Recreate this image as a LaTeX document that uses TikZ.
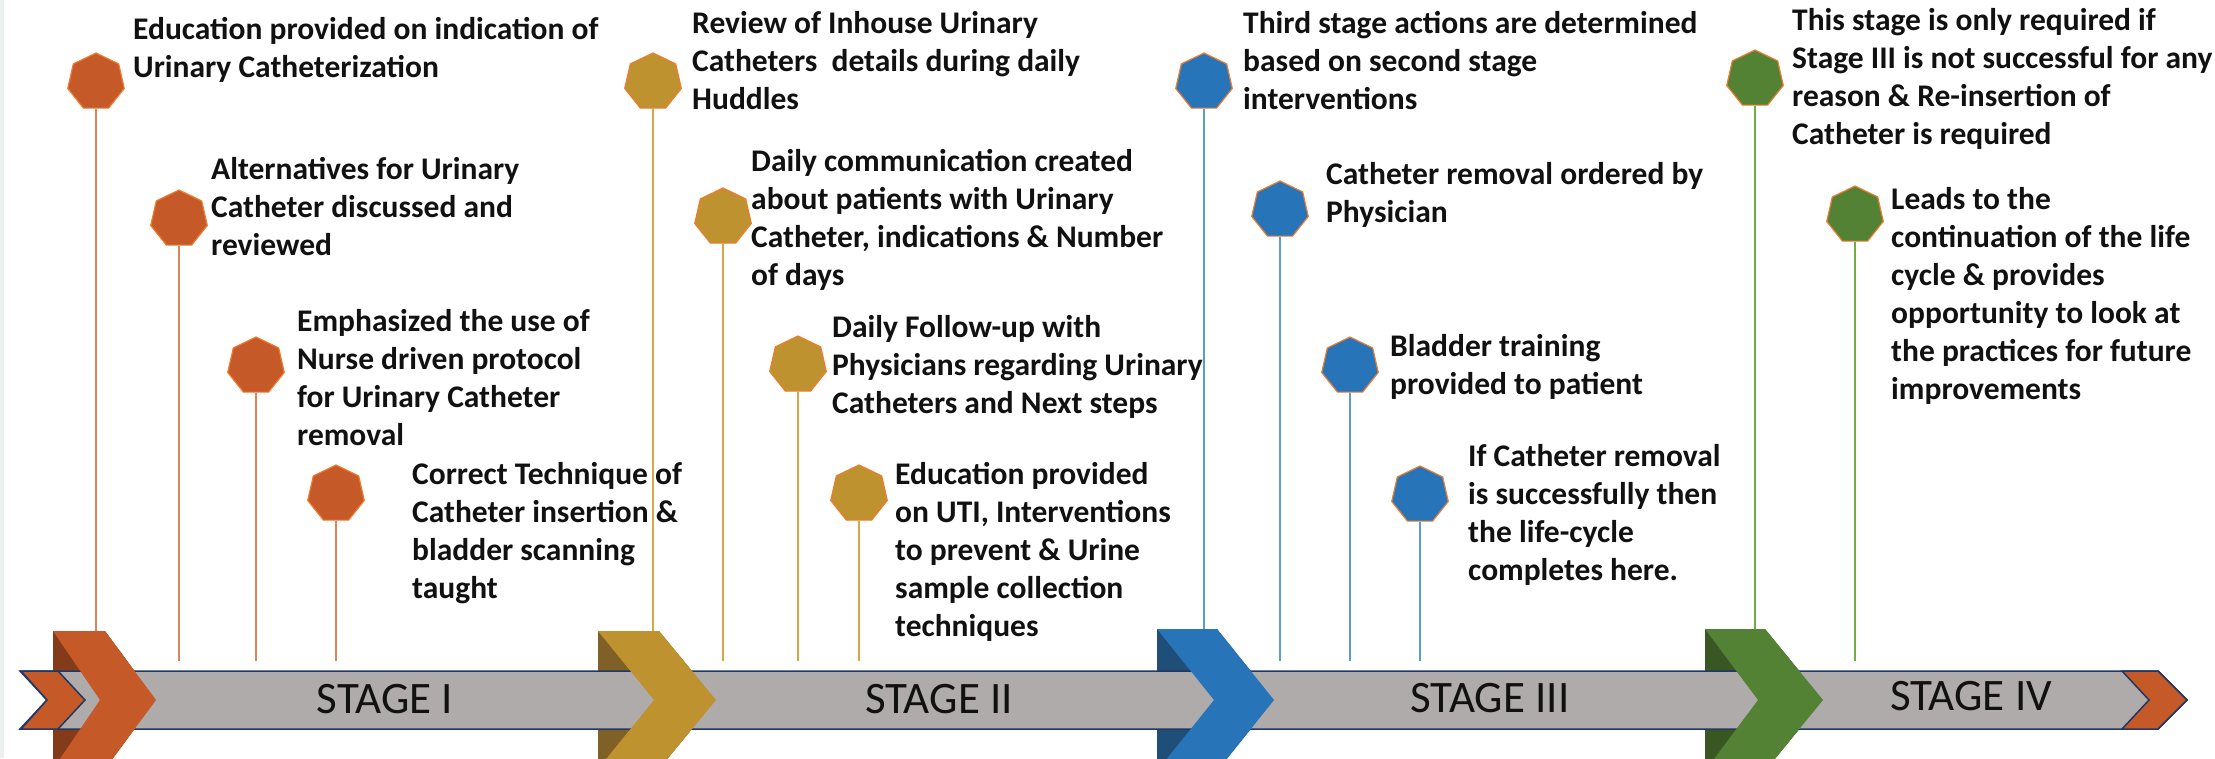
\documentclass[tikz,border=0pt]{standalone}
\usepackage{fontspec}
\setmainfont{Carlito}
\usetikzlibrary{shapes.geometric}

% stage colours: main fill, shaded fold, stem line
\definecolor{cOne}{HTML}{C55A28}
\definecolor{cOneD}{HTML}{843B1A}
\definecolor{cOneS}{HTML}{D9845A}
\definecolor{cTwo}{HTML}{BF9230}
\definecolor{cTwoD}{HTML}{7F6127}
\definecolor{cTwoS}{HTML}{D4A849}
\definecolor{cThree}{HTML}{2874B8}
\definecolor{cThreeD}{HTML}{1F4E79}
\definecolor{cThreeS}{HTML}{5B9BD5}
\definecolor{cFour}{HTML}{548235}
\definecolor{cFourD}{HTML}{385723}
\definecolor{cFourS}{HTML}{70AD47}
\definecolor{rim}{HTML}{ED7D31}
\definecolor{bandgray}{HTML}{AFABAB}
\definecolor{navy}{HTML}{203864}
\definecolor{ink}{HTML}{111111}
\definecolor{edgestrip}{HTML}{EAF1EC}

\newcommand\tlnotefont{\fontsize{31.5}{38}\selectfont\bfseries}

\tikzset{
  note/.style={anchor=north west, inner sep=0pt, align=left, text=ink,
    font=\tlnotefont, execute at begin node=\strut},
  hept/.style={regular polygon, regular polygon sides=7, minimum size=58pt,
    inner sep=0pt, draw=rim, line width=1.2pt, fill=#1},
  stem/.style={line width=2pt, draw=#1},
  stagelabel/.style={inner sep=0pt, text=ink, font=\fontsize{45}{50}\selectfont}
}

\begin{document}
\begin{tikzpicture}[x=1pt, y=-1pt]
\useasboundingbox (0,0) rectangle (2215,758);
\clip (0,0) rectangle (2215,758);
\fill[white] (0,0) rectangle (2215,758);
\fill[edgestrip] (0,0) rectangle (4,758);

% ---------- Stage I notes ----------
\node[note] (t11) at (133,17.4) {Education provided on indication of\\Urinary Catheterization};
\node[note] (t12) at (211,157.4) {Alternatives for Urinary\\Catheter discussed and\\reviewed};
\node[note] (t13) at (297,309.4) {Emphasized the use of\\Nurse driven protocol\\for Urinary Catheter\\removal};
\node[note] (t14) at (412,462.4) {Correct Technique of\\Catheter insertion \&\\bladder scanning\\taught};

% ---------- Stage II notes ----------
\node[note] (t21) at (692,11.4) {Review of Inhouse Urinary\\Catheters\ \ details during daily\\Huddles};
\node[note] (t22) at (751,149.4) {Daily communication created\\about patients with Urinary\\Catheter, indications \& Number\\of days};
\node[note] (t23) at (832,315.4) {Daily Follow-up with\\Physicians regarding Urinary\\Catheters and Next steps};
\node[note] (t24) at (895,462.4) {Education provided\\on UTI, Interventions\\to prevent \& Urine\\sample collection\\techniques};

% ---------- Stage III notes ----------
\node[note] (t31) at (1243,11.4) {Third stage actions are determined\\based on second stage\\interventions};
\node[note] (t32) at (1326,162.4) {Catheter removal ordered by\\Physician};
\node[note] (t33) at (1390,334.4) {Bladder training\\provided to patient};
\node[note] (t34) at (1468,444.4) {If Catheter removal\\is successfully then\\the life-cycle\\completes here.};

% ---------- Stage IV notes ----------
\node[note] (t41) at (1792,8.4) {This stage is only required if\\Stage III is not successful for any\\reason \& Re-insertion of\\Catheter is required};
\node[note] (t42) at (1891,187.4) {Leads to the\\continuation of the life\\cycle \& provides\\opportunity to look at\\the practices for future\\improvements};

% ---------- heptagon markers ----------
\node[hept=cOne] (h11) at (96,82) {};
\node[hept=cOne] (h12) at (179,219) {};
\node[hept=cOne] (h13) at (256,366) {};
\node[hept=cOne] (h14) at (336,494) {};
\node[hept=cTwo] (h21) at (653,82) {};
\node[hept=cTwo] (h22) at (723,217) {};
\node[hept=cTwo] (h23) at (798,365) {};
\node[hept=cTwo] (h24) at (859,494) {};
\node[hept=cThree] (h31) at (1204,82) {};
\node[hept=cThree] (h32) at (1280,210) {};
\node[hept=cThree] (h33) at (1350,366) {};
\node[hept=cThree] (h34) at (1420,495) {};
\node[hept=cFour] (h41) at (1755,79) {};
\node[hept=cFour] (h42) at (1855,215) {};

% ---------- stem ends ----------
\coordinate (e11) at (96,632);
\coordinate (e12) at (179,661);
\coordinate (e13) at (256,661);
\coordinate (e14) at (336,661);
\coordinate (e21) at (653,632);
\coordinate (e22) at (723,661);
\coordinate (e23) at (798,661);
\coordinate (e24) at (859,661);
\coordinate (e31) at (1204,630);
\coordinate (e32) at (1280,661);
\coordinate (e33) at (1350,661);
\coordinate (e34) at (1420,661);
\coordinate (e41) at (1755,630);
\coordinate (e42) at (1855,661);

\foreach \s/\col in {1/cOneS,2/cTwoS,3/cThreeS}{
  \foreach \k in {1,2,3,4}{
    \draw[stem=\col] (h\s\k.south) -- (e\s\k);
  }
}
\draw[stem=cFourS] (h41.south) -- (e41);
\draw[stem=cFourS] (h42.south) -- (e42);

% ---------- shaded folds of the stage chevrons ----------
\foreach \L/\R/\T/\N/\tp/\col in {53/105/156/100/631/cOneD, 598/659/716/654/631/cTwoD,
    1157/1217/1274/1214/629/cThreeD, 1705/1765/1823/1758/629/cFourD}{
  \fill[\col] (\L,\tp) -- (\R,\tp) -- (\T,700) -- (\R,{1400-\tp}) -- (\L,{1400-\tp}) -- cycle;
}

% ---------- timeline band ----------
\draw[fill=bandgray, draw=navy, line width=1.5pt, line join=miter]
  (20,671) -- (2158,671) -- (2187,700) -- (2158,729) -- (20,729) -- (47,700) -- cycle;
\draw[fill=cOne, draw=navy, line width=1.5pt, line join=miter]
  (21,671) -- (58,671) -- (85,700) -- (58,729) -- (21,729) -- (47,700) -- cycle;
\draw[fill=cOne, draw=navy, line width=1.5pt, line join=miter]
  (2122,671) -- (2158,671) -- (2187,700) -- (2158,729) -- (2122,729) -- (2149,700) -- cycle;

% ---------- stage chevrons ----------
\foreach \L/\R/\T/\N/\tp/\col in {53/105/156/100/631/cOne, 598/659/716/654/631/cTwo,
    1157/1217/1274/1214/629/cThree, 1705/1765/1823/1758/629/cFour}{
  \fill[\col] (\L,\tp) -- (\R,\tp) -- (\T,700) -- (\R,{1400-\tp}) -- (\L,{1400-\tp}) -- (\N,700) -- cycle;
}

% ---------- stage labels ----------
\node[stagelabel] (s1) at (385,699) {STAGE I};
\node[stagelabel] (s2) at (939,699) {STAGE II};
\node[stagelabel] (s3) at (1490,698) {STAGE III};
\node[stagelabel] (s4) at (1971,696) {STAGE IV};
\end{tikzpicture}
\end{document}
